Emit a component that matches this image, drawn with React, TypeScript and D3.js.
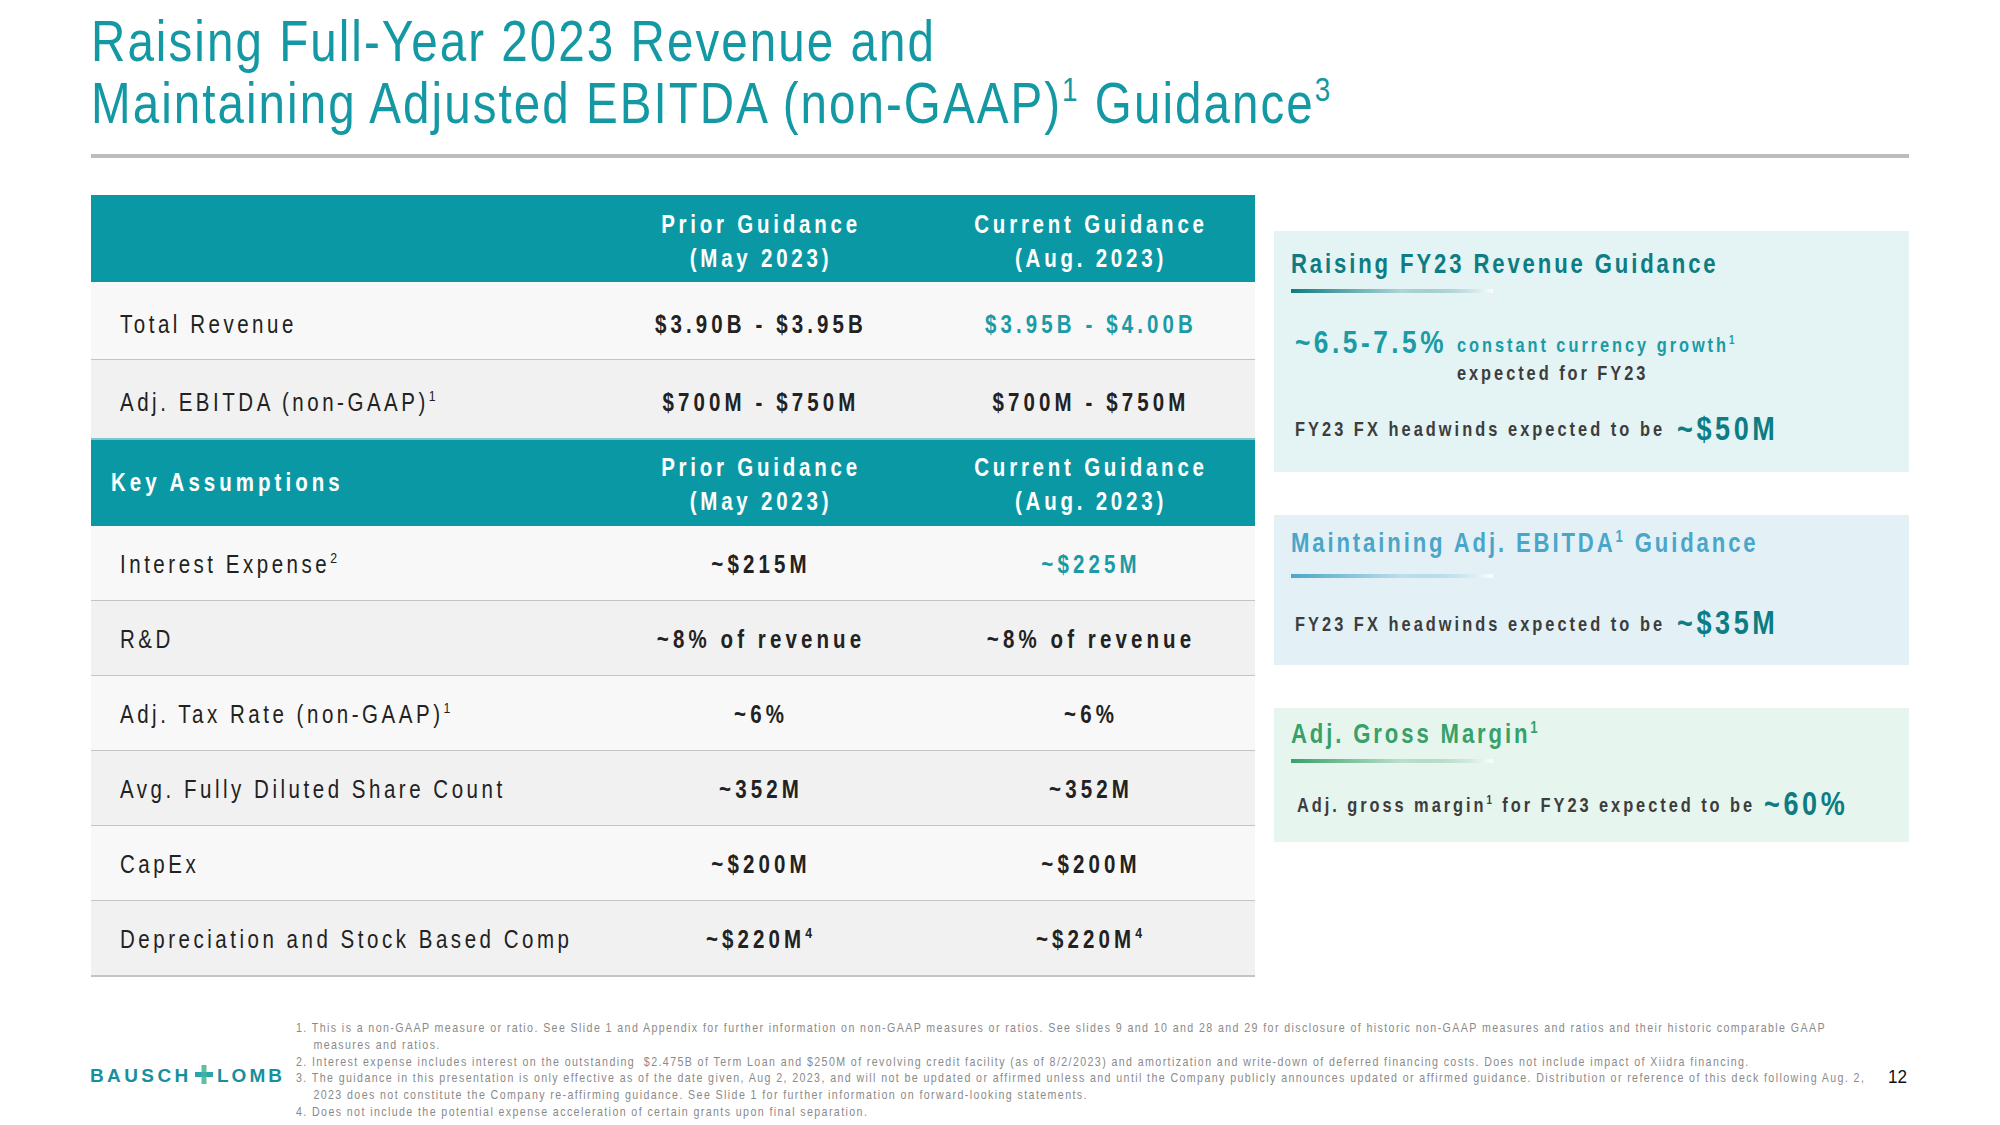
import React from "react";
import * as d3 from "d3";

const W = 2000;
const H = 1125;

const titleLines = ["Raising Full-Year 2023 Revenue and", "Maintaining Adjusted EBITDA (non-GAAP)"];
const titleSups = ["", "1"];
const titleTails = ["", " Guidance"];
const titleTailSups = ["", "3"];

const columnKeys = ["prior", "current"];
const columnHeadLine1 = ["Prior Guidance", "Current Guidance"];
const columnHeadLine2 = ["(May 2023)", "(Aug. 2023)"];

const summaryLabels = ["Total Revenue", "Adj. EBITDA (non-GAAP)"];
const summarySups = ["", "1"];
const summaryPrior = ["$3.90B - $3.95B", "$700M - $750M"];
const summaryCurrent = ["$3.95B - $4.00B", "$700M - $750M"];
const summaryHighlight = [true, false];

const assumptionTitle = "Key Assumptions";
const assumptionLabels = [
  "Interest Expense",
  "R&D",
  "Adj. Tax Rate (non-GAAP)",
  "Avg. Fully Diluted Share Count",
  "CapEx",
  "Depreciation and Stock Based Comp",
];
const assumptionSups = ["2", "", "1", "", "", ""];
const assumptionPrior = ["~$215M", "~8% of revenue", "~6%", "~352M", "~$200M", "~$220M"];
const assumptionCurrent = ["~$225M", "~8% of revenue", "~6%", "~352M", "~$200M", "~$220M"];
const assumptionValueSups = ["", "", "", "", "", "4"];
const assumptionHighlight = [true, false, false, false, false, false];

const panelTitles = ["Raising FY23 Revenue Guidance", "Maintaining Adj. EBITDA", "Adj. Gross Margin"];
const panelTitleSups = ["", "1", "1"];
const panelTitleTails = ["", " Guidance", ""];
const revenueGrowth = "~6.5-7.5%";
const revenueGrowthText = ["constant currency growth", "expected for FY23"];
const fxText = "FY23 FX headwinds expected to be";
const fxRevenue = "~$50M";
const fxEbitda = "~$35M";
const marginText = ["Adj. gross margin", " for FY23 expected to be"];
const marginValue = "~60%";

const footnotes = [
  "1. This is a non-GAAP measure or ratio. See Slide 1 and Appendix for further information on non-GAAP measures or ratios. See slides 9 and 10 and 28 and 29 for disclosure of historic non-GAAP measures and ratios and their historic comparable GAAP",
  "    measures and ratios.",
  "2. Interest expense includes interest on the outstanding  $2.475B of Term Loan and $250M of revolving credit facility (as of 8/2/2023) and amortization and write-down of deferred financing costs. Does not include impact of Xiidra financing.",
  "3. The guidance in this presentation is only effective as of the date given, Aug 2, 2023, and will not be updated or affirmed unless and until the Company publicly announces updated or affirmed guidance. Distribution or reference of this deck following Aug. 2,",
  "    2023 does not constitute the Company re-affirming guidance. See Slide 1 for further information on forward-looking statements.",
  "4. Does not include the potential expense acceleration of certain grants upon final separation.",
];
const pageNumber = "12";
const logoWords = ["BAUSCH", "LOMB"];

const FONT = "'Liberation Sans', Arial, sans-serif";
const SX = 0.82;

const TEAL = "#0a99a4";
const TITLE_TEAL = "#1398a4";
const DARK_TEAL = "#0d7c83";
const TEXT = "#222222";
const GRAY_TEXT = "#3d3d3d";

type Part = [string, boolean];

function Rich({ parts, supSize, up }: { parts: Part[]; supSize: number; up: number }) {
  let offset = 0;
  return (
    <>
      {parts
        .filter((p) => p[0] !== "")
        .map(([t, sup], i) => {
          const target = sup ? -up : 0;
          const dy = target - offset;
          offset = target;
          return (
            <tspan key={i} dy={dy} fontSize={sup ? supSize : undefined}>
              {t}
            </tspan>
          );
        })}
    </>
  );
}

function NText({
  x,
  y,
  sx = SX,
  anchor = "start",
  size,
  weight = 400,
  fill,
  ls = 0,
  children,
}: {
  x: number;
  y: number;
  sx?: number;
  anchor?: string;
  size: number;
  weight?: number;
  fill: string;
  ls?: number;
  children: React.ReactNode;
}) {
  return (
    <text
      transform={`translate(${x},${y}) scale(${sx},1)`}
      x={0}
      y={0}
      textAnchor={anchor}
      fontFamily={FONT}
      fontSize={size}
      fontWeight={weight}
      fill={fill}
      letterSpacing={ls}
      style={{ whiteSpace: "pre" }}
    >
      {children}
    </text>
  );
}

export default function App() {
  const tableX0 = 91;
  const tableX1 = 1255;
  const colX = d3.scalePoint<string>().domain(columnKeys).range([761, 1091]);

  const head1Y = [195, 282];
  const sumY = d3.scaleBand<string>().domain(summaryLabels).range([282, 438]);
  const head2Y = [438, 526];
  const asmY = d3.scaleBand<string>().domain(assumptionLabels).range([526, 976]);

  const labelFs = 25;
  const valueFs = 25;
  const labelLs = 4.3;
  const valueLs = 5;
  const headLs = 4.6;

  const rowFill = (i: number) => (i % 2 === 0 ? "#f8f8f8" : "#f1f1f1");

  const headerCells = (y0: number, y1: number) =>
    columnKeys.map((k, i) => {
      const cy = (y0 + y1) / 2;
      return (
        <g key={k}>
          <NText x={colX(k)!} y={cy - 6} anchor="middle" fill="#fff" weight={700} size={25} ls={headLs}>
            {columnHeadLine1[i]}
          </NText>
          <NText x={colX(k)!} y={cy + 28} anchor="middle" fill="#fff" weight={700} size={25} ls={headLs}>
            {columnHeadLine2[i]}
          </NText>
        </g>
      );
    });

  const panels = [
    { y0: 231, y1: 472, bg: "#e4f3f3", titleColor: DARK_TEAL, line: "#0d7c83", tOff: 42, uOff: 58 },
    { y0: 515, y1: 665, bg: "#e3f1f7", titleColor: "#4aa6c8", line: "#4aa6c8", tOff: 37, uOff: 59 },
    { y0: 708, y1: 842, bg: "#e7f5ef", titleColor: "#37a168", line: "#37a168", tOff: 35, uOff: 51 },
  ];
  const px0 = 1274;
  const px1 = 1909;
  const ptx = 1291;

  return (
    <svg width={W} height={H} style={{ position: "absolute", left: 0, top: 0, background: "#fff" }} xmlns="http://www.w3.org/2000/svg">
      <defs>
        {panels.map((p, i) => (
          <linearGradient key={i} id={`grad${i}`} x1="0" x2="1" y1="0" y2="0">
            <stop offset="0" stopColor={p.line} stopOpacity={1} />
            <stop offset="0.55" stopColor={p.line} stopOpacity={0.25} />
            <stop offset="1" stopColor="#ffffff" stopOpacity={0.9} />
          </linearGradient>
        ))}
      </defs>
      <rect x={0} y={0} width={W} height={H} fill="#fff" />

      {/* Title */}
      {titleLines.map((t, i) => (
        <NText key={i} x={91} y={61 + i * 62} fill={TITLE_TEAL} size={58} ls={2.5}>
          <Rich
            parts={[
              [t, false],
              [titleSups[i], true],
              [titleTails[i] ? "\u00a0" + titleTails[i].trim() : "", false],
              [titleTailSups[i], true],
            ]}
            supSize={34}
            up={22}
          />
        </NText>
      ))}
      <rect x={91} y={154} width={1818} height={4} fill="#bdbdbd" />

      {/* Header 1 */}
      <rect x={tableX0} y={head1Y[0]} width={tableX1 - tableX0} height={head1Y[1] - head1Y[0]} fill={TEAL} />
      {headerCells(head1Y[0], head1Y[1])}

      {/* Summary rows */}
      {summaryLabels.map((l, i) => {
        const y = sumY(l)!;
        const h = sumY.bandwidth();
        const cy = y + h / 2 + labelFs * 0.36 + 3;
        return (
          <g key={l}>
            <rect x={tableX0} y={y} width={tableX1 - tableX0} height={h} fill={rowFill(i)} />
            <NText x={120} y={cy} fill={TEXT} size={labelFs} ls={labelLs}>
              <Rich parts={[[l, false], [summarySups[i], true]]} supSize={15} up={10} />
            </NText>
            <NText x={colX("prior")!} y={cy} anchor="middle" fill={TEXT} weight={700} size={valueFs} ls={valueLs}>
              {summaryPrior[i]}
            </NText>
            <NText x={colX("current")!} y={cy} anchor="middle" fill={summaryHighlight[i] ? "#1a9ba6" : TEXT} weight={700} size={valueFs} ls={valueLs}>
              {summaryCurrent[i]}
            </NText>
            {i < summaryLabels.length - 1 && <rect x={tableX0} y={y + h - 1} width={tableX1 - tableX0} height={2} fill="#c4c4c4" />}
          </g>
        );
      })}

      {/* Header 2 */}
      <rect x={tableX0} y={head2Y[0]} width={tableX1 - tableX0} height={head2Y[1] - head2Y[0]} fill={TEAL} />
      <rect x={tableX0} y={head2Y[0]} width={tableX1 - tableX0} height={2} fill="#7fc6cc" />
      <NText x={111} y={(head2Y[0] + head2Y[1]) / 2 + 9} fill="#fff" weight={700} size={25} ls={4.9}>
        {assumptionTitle}
      </NText>
      {headerCells(head2Y[0], head2Y[1])}

      {/* Assumption rows */}
      {assumptionLabels.map((l, i) => {
        const y = asmY(l)!;
        const h = asmY.bandwidth();
        const cy = y + h / 2 + labelFs * 0.36;
        return (
          <g key={l}>
            <rect x={tableX0} y={y} width={tableX1 - tableX0} height={h} fill={rowFill(i)} />
            <NText x={120} y={cy} fill={TEXT} size={labelFs} ls={labelLs}>
              <Rich parts={[[l, false], [assumptionSups[i], true]]} supSize={15} up={10} />
            </NText>
            <NText x={colX("prior")!} y={cy} anchor="middle" fill={TEXT} weight={700} size={valueFs} ls={valueLs}>
              <Rich parts={[[assumptionPrior[i], false], [assumptionValueSups[i], true]]} supSize={15} up={10} />
            </NText>
            <NText x={colX("current")!} y={cy} anchor="middle" fill={assumptionHighlight[i] ? "#1a9ba6" : TEXT} weight={700} size={valueFs} ls={valueLs}>
              <Rich parts={[[assumptionCurrent[i], false], [assumptionValueSups[i], true]]} supSize={15} up={10} />
            </NText>
            <rect x={tableX0} y={y + h - 1} width={tableX1 - tableX0} height={2} fill="#c4c4c4" />
          </g>
        );
      })}

      {/* Right panels */}
      {panels.map((p, i) => (
        <g key={i}>
          <rect x={px0} y={p.y0} width={px1 - px0} height={p.y1 - p.y0} fill={p.bg} />
          <NText x={ptx} y={p.y0 + p.tOff} fill={p.titleColor} weight={700} size={27} ls={3.5}>
            <Rich
              parts={[
                [panelTitles[i], false],
                [panelTitleSups[i], true],
                [panelTitleTails[i], false],
              ]}
              supSize={16}
              up={10}
            />
          </NText>
          <rect x={ptx} y={p.y0 + p.uOff} width={202} height={4} fill={`url(#grad${i})`} />
        </g>
      ))}
      {/* panel 1 content */}
      <NText x={1295} y={353} fill="#1a9ba6" weight={700} size={32} ls={4.3}>
        {revenueGrowth}
      </NText>
      <NText x={1457} y={352} fill="#1a9ba6" weight={700} size={20} ls={3.6}>
        <Rich parts={[[revenueGrowthText[0], false], ["1", true]]} supSize={12} up={8} />
      </NText>
      <NText x={1457} y={380} fill={GRAY_TEXT} weight={700} size={20} ls={3.6}>
        {revenueGrowthText[1]}
      </NText>
      <NText x={1295} y={436} fill={GRAY_TEXT} weight={700} size={20} ls={3.7}>
        {fxText}
      </NText>
      <NText x={1677} y={440} fill={DARK_TEAL} weight={700} size={33} ls={4.4}>
        {fxRevenue}
      </NText>
      {/* panel 2 content */}
      <NText x={1295} y={631} fill={GRAY_TEXT} weight={700} size={20} ls={3.7}>
        {fxText}
      </NText>
      <NText x={1677} y={634} fill={DARK_TEAL} weight={700} size={33} ls={4.4}>
        {fxEbitda}
      </NText>
      {/* panel 3 content */}
      <NText x={1297} y={812} fill={GRAY_TEXT} weight={700} size={20} ls={3.6}>
        <Rich parts={[[marginText[0], false], ["1", true], [marginText[1], false]]} supSize={12} up={8} />
      </NText>
      <NText x={1764} y={815} fill={DARK_TEAL} weight={700} size={33} ls={4.4}>
        {marginValue}
      </NText>

      {/* Logo */}
      <NText x={90} y={1082} sx={1} fill="#17909c" weight={700} size={19} ls={3.4}>
        {logoWords[0]}
      </NText>
      <rect x={195} y={1072} width={18} height={5} fill="#2aa5ad" />
      <rect x={201.5} y={1065} width={5} height={19} fill="#5fbf9e" />
      <rect x={201.5} y={1072} width={5} height={5} fill="#3fb0a8" />
      <NText x={217} y={1082} sx={1} fill="#17909c" weight={700} size={19} ls={3}>
        {logoWords[1]}
      </NText>

      {/* Footnotes */}
      {footnotes.map((f, i) => (
        <NText key={i} x={296} y={1032 + i * 16.8} fill="#8a8a8a" size={13} ls={1.7}>
          {f}
        </NText>
      ))}
      <NText x={1888} y={1083} sx={0.9} fill="#111" size={19}>
        {pageNumber}
      </NText>
    </svg>
  );
}
